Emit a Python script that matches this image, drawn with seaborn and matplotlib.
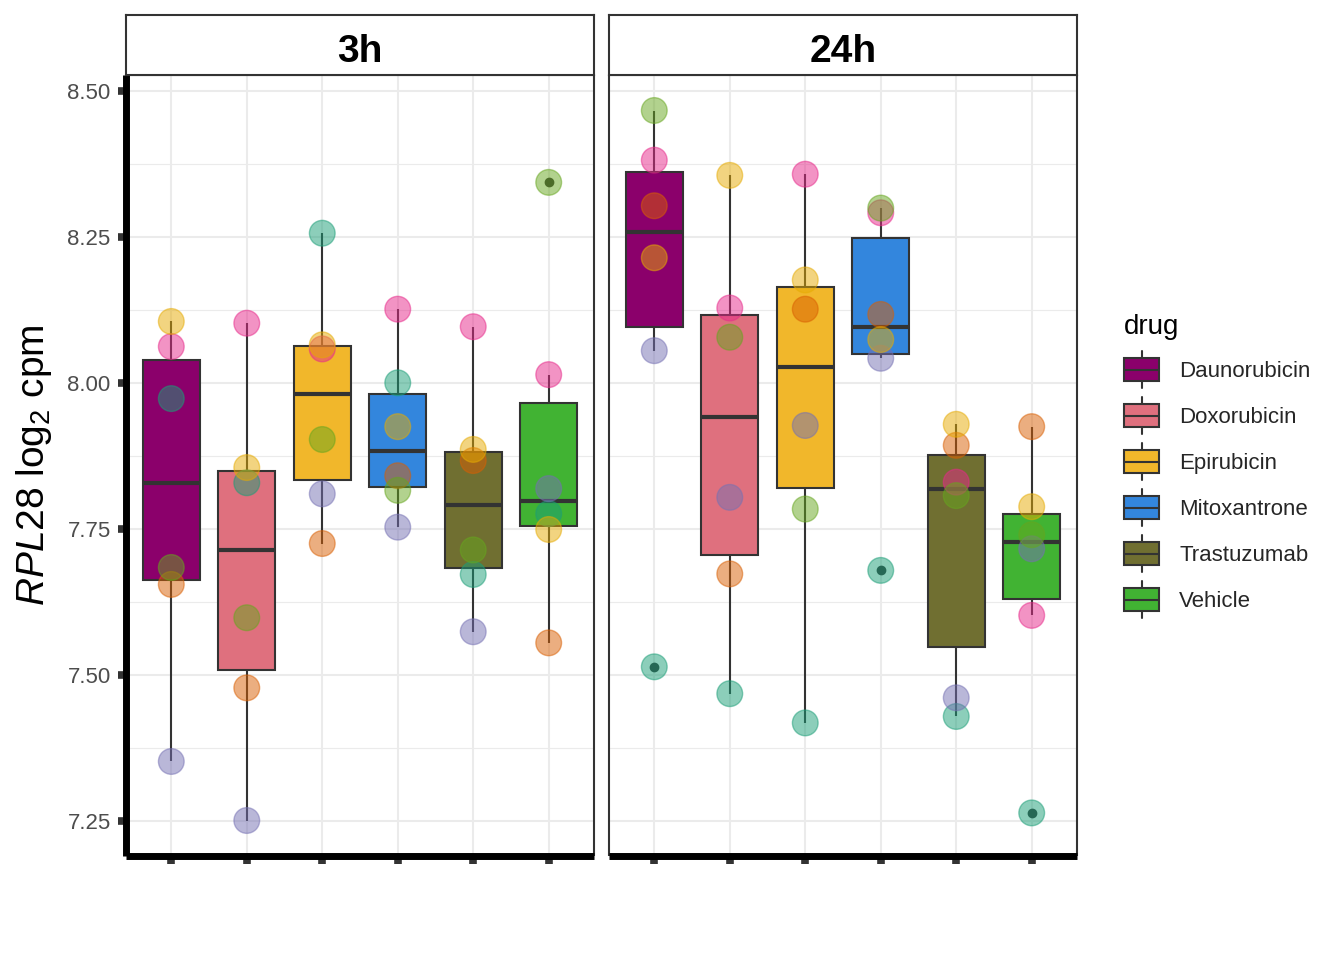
from __future__ import annotations

import matplotlib
import matplotlib.pyplot as plt
import numpy as np
import pandas as pd
import seaborn as sns
from matplotlib.legend_handler import HandlerBase
from matplotlib.lines import Line2D
from matplotlib.patches import Patch, Rectangle
from matplotlib.ticker import FixedLocator

matplotlib.use("Agg")
sns.set_style("white")
plt.rcParams["font.family"] = ["Liberation Sans", "DejaVu Sans"]
plt.rcParams["mathtext.fontset"] = "custom"
plt.rcParams["mathtext.rm"] = "Liberation Sans"
plt.rcParams["mathtext.it"] = "Liberation Sans:italic"

OUT_PATH = "out.png"
FIG_W, FIG_H = 1344, 960

TIMES = ["3h", "24h"]
DRUGS = ["Daunorubicin", "Doxorubicin", "Epirubicin", "Mitoxantrone", "Trastuzumab", "Vehicle"]
INDIVIDUALS = ["1", "2", "3", "4", "5", "6"]

# one row per drug (DRUGS order), one column per individual (INDIVIDUALS order)
RPL28_3H = [
    [7.973, 7.655, 7.352, 8.062, 7.684, 8.105],
    [7.829, 7.478, 7.251, 8.102, 7.598, 7.855],
    [8.256, 7.725, 7.810, 8.058, 7.903, 8.065],
    [8.000, 7.841, 7.753, 8.126, 7.816, 7.925],
    [7.672, 7.867, 7.574, 8.096, 7.714, 7.886],
    [7.776, 7.555, 7.819, 8.014, 8.343, 7.749],
]
RPL28_24H = [
    [7.514, 8.303, 8.055, 8.381, 8.466, 8.214],
    [7.468, 7.673, 7.804, 8.128, 8.078, 8.355],
    [7.418, 8.126, 7.927, 8.357, 7.784, 8.176],
    [7.679, 8.117, 8.042, 8.291, 8.299, 8.074],
    [7.429, 7.893, 7.461, 7.830, 7.807, 7.929],
    [7.264, 7.925, 7.716, 7.602, 7.740, 7.788],
]

DRUG_COLORS = ["#8B006B", "#DF707E", "#F1B72B", "#3386DD", "#706F31", "#41B333"]
INDIVIDUAL_COLORS = sns.color_palette("Dark2", 6)
Y_TICKS = [7.25, 7.50, 7.75, 8.00, 8.25, 8.50]
Y_LABEL = r"$\mathit{RPL28}$ log$_{2}$ cpm"

LINE_GREY = "#333333"


class BoxKeyHandler(HandlerBase):
    """Legend key drawn like a ggplot boxplot key."""

    def create_artists(self, legend, orig_handle, xdescent, ydescent, width, height, fontsize, trans):
        x0, y0 = -xdescent, -ydescent
        cx, cy = x0 + width / 2, y0 + height / 2
        half_box, half_whisker = 8.3, 13.3
        whisker = Line2D([cx, cx], [cy - half_whisker, cy + half_whisker], color=LINE_GREY, lw=1.5, transform=trans)
        box = Rectangle(
            (x0, cy - half_box), width, 2 * half_box,
            facecolor=orig_handle.get_facecolor(), edgecolor=LINE_GREY, linewidth=1.5, transform=trans,
        )
        median = Line2D([x0, x0 + width], [cy, cy], color=LINE_GREY, lw=1.5, transform=trans)
        return [whisker, box, median]


def build_dataset() -> pd.DataFrame:
    rows = []
    for time, table in zip(TIMES, [RPL28_3H, RPL28_24H]):
        for drug, values in zip(DRUGS, table):
            for individual, value in zip(INDIVIDUALS, values):
                rows.append({"time": time, "drug": drug, "individual": individual, "value": value})
    return pd.DataFrame(rows)


def px_axes(fig, x0, y0, x1, y1):
    return fig.add_axes([x0 / FIG_W, 1 - y1 / FIG_H, (x1 - x0) / FIG_W, (y1 - y0) / FIG_H])


def draw_panel(ax, sub: pd.DataFrame, ylim, first: bool) -> None:
    sns.boxplot(
        data=sub, x="drug", y="value", hue="drug", order=DRUGS, hue_order=DRUGS,
        palette=DRUG_COLORS, saturation=1, width=0.75, linewidth=1.5, linecolor=LINE_GREY,
        showcaps=False, whis=1.5, legend=False, ax=ax,
        medianprops={"linewidth": 3.0, "color": LINE_GREY},
        flierprops={"marker": "o", "markersize": 6, "markerfacecolor": LINE_GREY,
                    "markeredgecolor": LINE_GREY},
    )
    sns.stripplot(
        data=sub, x="drug", y="value", hue="individual", order=DRUGS, hue_order=INDIVIDUALS,
        palette=INDIVIDUAL_COLORS, jitter=False, dodge=False, size=18.5, alpha=0.5,
        linewidth=1.0, edgecolor="face", legend=False, ax=ax, zorder=4,
    )

    ax.set_xlim(-0.6, len(DRUGS) - 0.4)
    ax.set_ylim(*ylim)
    ax.set_xlabel("")
    ax.set_ylabel("")
    ax.set_xticks(range(len(DRUGS)))
    ax.set_xticklabels([])
    ax.set_yticks(Y_TICKS)
    ax.set_yticklabels([f"{t:.2f}" for t in Y_TICKS])
    ax.yaxis.set_minor_locator(FixedLocator(np.array(Y_TICKS[:-1]) + 0.125))

    ax.set_axisbelow(True)
    ax.grid(True, which="major", color="#EBEBEB", linewidth=1.5)
    ax.grid(True, which="minor", axis="y", color="#EBEBEB", linewidth=0.8)
    ax.tick_params(which="minor", length=0)
    ax.tick_params(which="major", bottom=True, left=True, length=6, width=5.5, color=LINE_GREY,
                   labelsize=16, labelcolor="#4D4D4D", pad=5)

    for spine in ax.spines.values():
        spine.set_color(LINE_GREY)
        spine.set_linewidth(1.5)
        spine.set_capstyle("butt")
    ax.spines["bottom"].set_color("black")
    ax.spines["bottom"].set_linewidth(5)
    if first:
        ax.spines["left"].set_color("black")
        ax.spines["left"].set_linewidth(5)
    else:
        ax.tick_params(axis="y", left=False, labelleft=False)


def draw_strip(ax, label: str) -> None:
    ax.set_xticks([])
    ax.set_yticks([])
    for spine in ax.spines.values():
        spine.set_color(LINE_GREY)
        spine.set_linewidth(1.5)
    ax.text(0.5, 13 / 60, label, ha="center", va="baseline", fontsize=28, fontweight="bold",
            color="black", transform=ax.transAxes)


def main() -> None:
    data = build_dataset()
    lo, hi = data["value"].min(), data["value"].max()
    pad = 0.05 * (hi - lo)
    ylim = (lo - pad, hi + pad)

    fig = plt.figure(figsize=(FIG_W / 100, FIG_H / 100), dpi=100)
    panel_x = [(126, 594), (609, 1077)]
    for i, (time, (x0, x1)) in enumerate(zip(TIMES, panel_x)):
        ax = px_axes(fig, x0, 75, x1, 856)
        draw_panel(ax, data[data["time"] == time], ylim, first=(i == 0))
        strip = px_axes(fig, x0, 15, x1, 75)
        draw_strip(strip, time)

    fig.text(34 / FIG_W, 1 - 465.5 / FIG_H, Y_LABEL, rotation=90, ha="center", va="center",
             fontsize=28, color="black")

    # legend rows: ~32.7 px handle box + ~13.3 px label spacing = 46 px pitch
    handles = [Patch(facecolor=c, edgecolor=LINE_GREY) for c in DRUG_COLORS]
    leg = fig.legend(
        handles, DRUGS, title="drug", loc="upper left",
        bbox_to_anchor=(1124 / FIG_W, 1 - 314 / FIG_H), frameon=False,
        fontsize=16, title_fontsize=20, handler_map={Patch: BoxKeyHandler()},
        handlelength=1.58, handleheight=1.885, labelspacing=0.6, handletextpad=0.9,
        borderpad=0, borderaxespad=0, alignment="left",
    )
    leg.get_title().set_color("black")

    fig.savefig(OUT_PATH, dpi=100)
    plt.close(fig)


if __name__ == "__main__":
    main()
